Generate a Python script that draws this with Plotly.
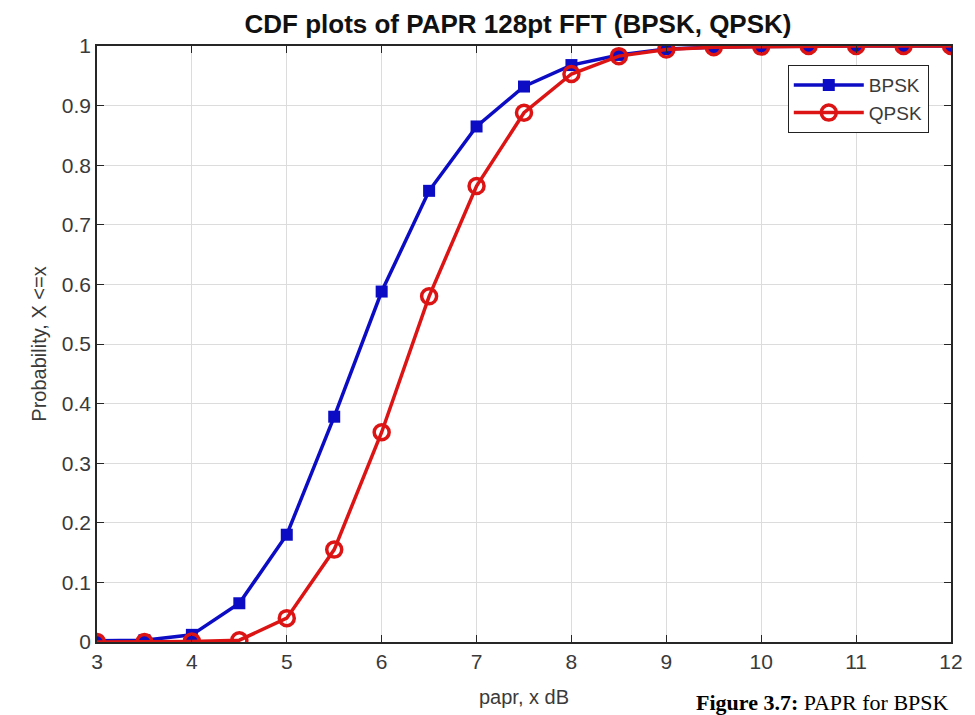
import plotly.graph_objects as go

papr_db = [3, 3.5, 4, 4.5, 5, 5.5, 6, 6.5, 7, 7.5, 8, 8.5, 9, 9.5, 10, 10.5, 11, 11.5, 12]
cdf_bpsk = [0.002, 0.003, 0.012, 0.065, 0.18, 0.378, 0.588, 0.757, 0.865, 0.932, 0.968,
            0.985, 0.995, 0.998, 0.999, 1.0, 1.0, 1.0, 1.0]
cdf_qpsk = [0.0, 0.0, 0.001, 0.003, 0.04, 0.155, 0.352, 0.58, 0.765, 0.888, 0.953,
            0.983, 0.994, 0.998, 0.999, 1.0, 1.0, 1.0, 1.0]
x_ticks = [3, 4, 5, 6, 7, 8, 9, 10, 11, 12]
y_ticks = [0, 0.1, 0.2, 0.3, 0.4, 0.5, 0.6, 0.7, 0.8, 0.9, 1]
y_tick_text = ["0", "0.1", "0.2", "0.3", "0.4", "0.5", "0.6", "0.7", "0.8", "0.9", "1"]

font = "Liberation Sans, Arial, sans-serif"
W, H = 967, 707  # page body has an 8px margin

fig = go.Figure()
fig.add_trace(go.Scatter(x=papr_db, y=cdf_bpsk, name="BPSK", mode="lines+markers",
                         line=dict(color="#0c0cc4", width=3.5),
                         marker=dict(symbol="square", size=12, color="#0c0cc4")))
fig.add_trace(go.Scatter(x=papr_db, y=cdf_qpsk, name="QPSK", mode="lines+markers",
                         line=dict(color="#dc1414", width=3.5),
                         marker=dict(symbol="circle-open", size=15, color="#dc1414",
                                     line=dict(width=3.5, color="#dc1414"))))

fig.update_layout(
    width=W, height=H,
    margin=dict(l=89, r=17, t=38, b=73),
    paper_bgcolor="white", plot_bgcolor="white",
    font=dict(family=font, size=20, color="#3a3a3a"),
    title=dict(text="<b>CDF plots of PAPR 128pt FFT (BPSK, QPSK)</b>",
               x=510 / W, xanchor="center", y=1 - 16 / H, yanchor="middle",
               font=dict(family=font, size=26, color="#111111")),
    legend=dict(x=0.974, y=0.968, xanchor="right", yanchor="top",
                bgcolor="white", bordercolor="#222222", borderwidth=1,
                font=dict(family=font, size=19, color="#3a3a3a"),
                itemwidth=70, tracegroupgap=0),
    showlegend=True,
)
fig.update_xaxes(range=[3, 12], tickvals=x_ticks, ticks="inside", ticklen=7,
                 tickcolor="#262626", showline=True, linecolor="#262626", linewidth=1.5,
                 mirror="ticks", showgrid=True, gridcolor="#dcdcdc", zeroline=False,
                 tickfont=dict(size=21))
fig.update_yaxes(range=[0, 1], tickvals=y_ticks, ticktext=y_tick_text, ticks="inside",
                 ticklen=7, tickcolor="#262626", showline=True, linecolor="#262626",
                 linewidth=1.5, mirror="ticks", showgrid=True, gridcolor="#dcdcdc",
                 zeroline=False, tickfont=dict(size=21),
                 title=dict(text="Probability, X <=x", font=dict(size=20), standoff=10))

fig.add_annotation(text="papr, x dB", xref="paper", yref="paper", x=0.5, y=-(684 - 642) / 596,
                   xanchor="center", yanchor="top", showarrow=False,
                   font=dict(family=font, size=20, color="#3a3a3a"))
fig.add_annotation(text="<b>Figure 3.7:</b> PAPR for BPSK", xref="paper", yref="paper",
                   x=1.0, y=-(688 - 642) / 596, xanchor="right", yanchor="top",
                   showarrow=False,
                   font=dict(family="Liberation Serif, Times New Roman, serif", size=22, color="black"))

fig.write_html("out.html")
